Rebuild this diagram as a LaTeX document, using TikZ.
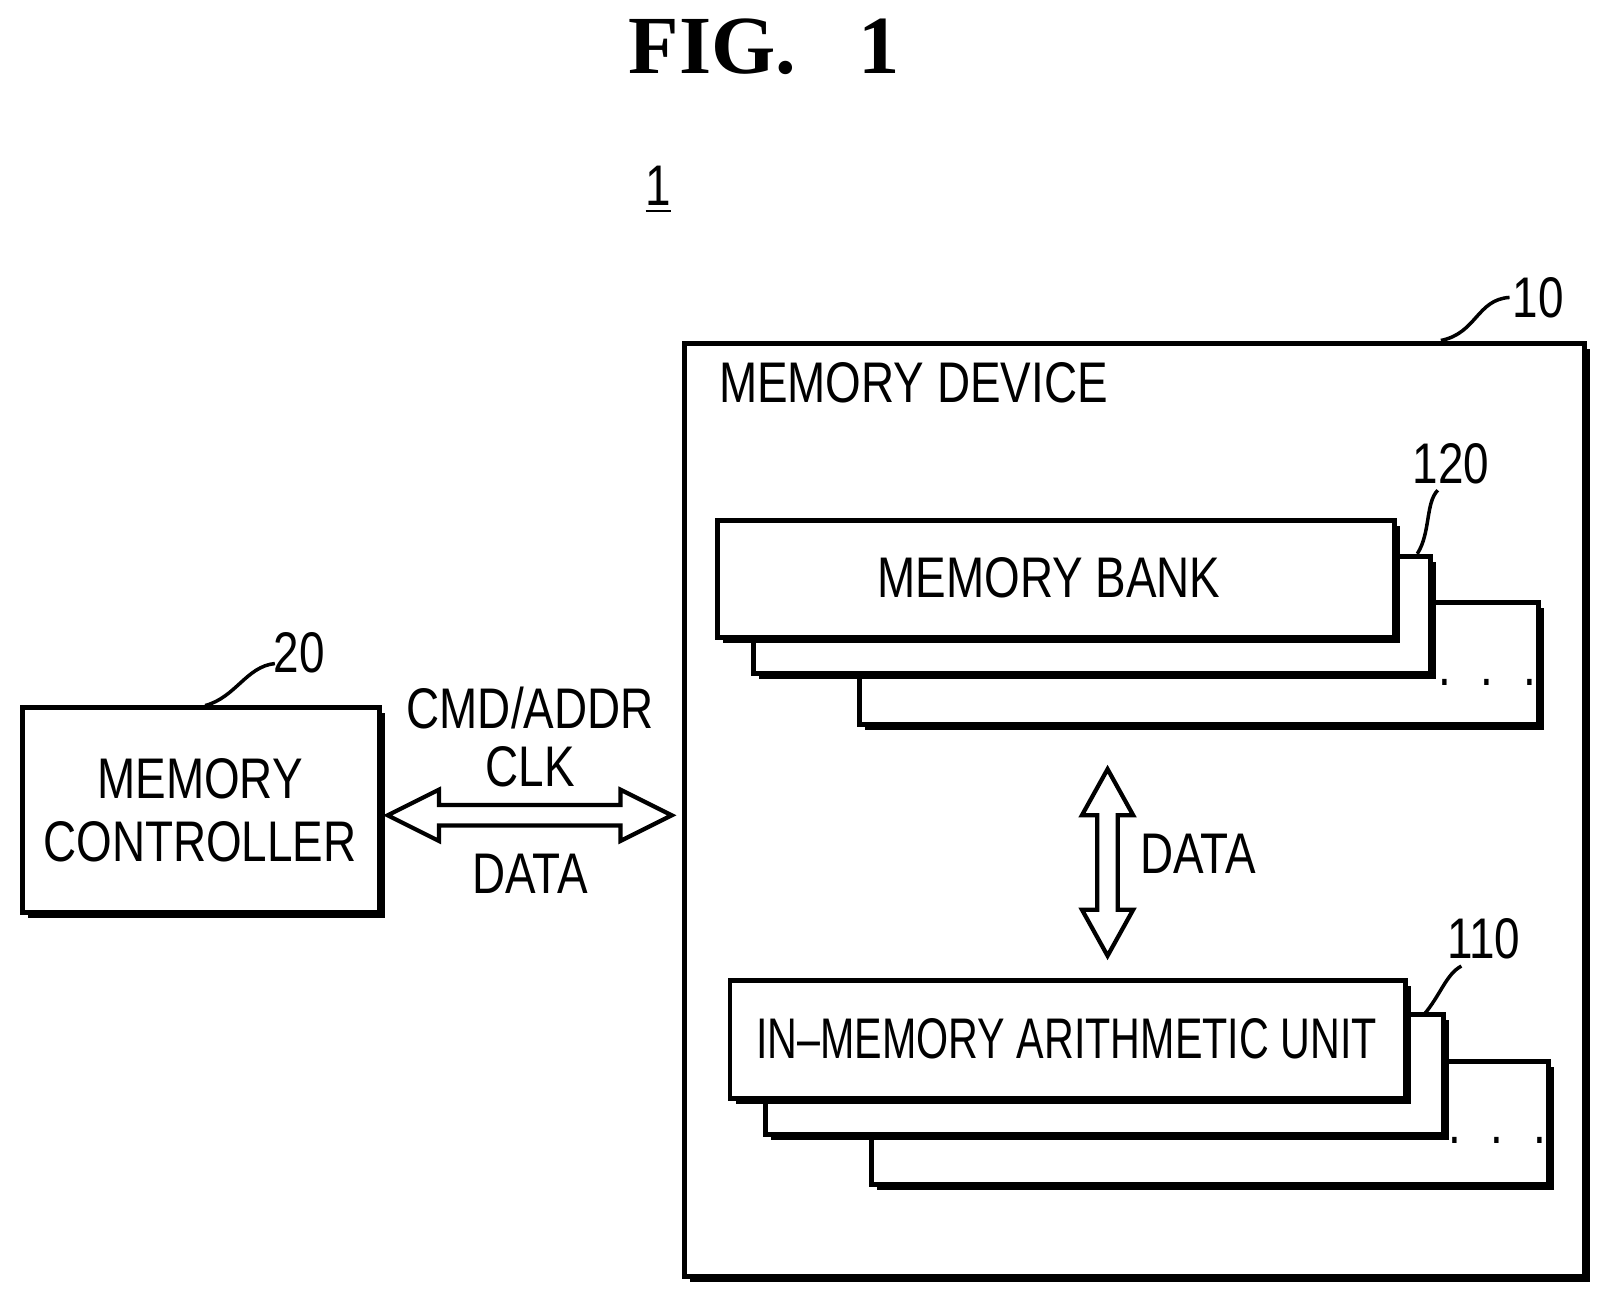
\documentclass[tikz,border=0pt]{standalone}
\usepackage{fontspec}
\setmainfont{Liberation Sans}[FakeStretch=0.8]
\newfontfamily\narrowfont{Liberation Sans}[FakeStretch=0.72,Ligatures=TeX]
\newfontfamily\figfont{Liberation Serif}
\begin{document}
\begin{tikzpicture}[x=0.010256cm,y=-0.010256cm,
  bx/.style={draw,line width=1.4pt,fill=white,inner sep=0,
    preaction={fill=black,transform canvas={shift={(0.055cm,-0.055cm)}}}},
  lbl/.style={font=\fontsize{16.3}{19}\selectfont},
  lead/.style={line width=1pt}]
\useasboundingbox (0,0) rectangle (1568,1270);
\node[font=\figfont\bfseries\fontsize{23.5}{28}\selectfont] (fig) at (745,46) {FIG.\hspace{0.75em}1};
\node[lbl] (one) at (642,185) {\underline{1}};
% memory device
\node[bx,minimum width=9.0cm,minimum height=9.33cm] (dev) at (1106,790) {};
\node[lbl,anchor=west] (devt) at (689,373) {MEMORY DEVICE};
\node[lbl] (ten) at (1500,290) {10};
\draw[lead] (1405,332) .. controls (1440,325) and (1440,292) .. (1472,290);
% memory bank stack
\node[bx,minimum width=6.79cm,minimum height=1.22cm] (b3) at (1169,647) {};
\node[bx,minimum width=6.77cm,minimum height=1.17cm] (b2) at (1065,600) {};
\node[bx,minimum width=6.77cm,minimum height=1.17cm] (b1) at (1030,565) {};
\node[lbl] (bt) at (1023,563) {MEMORY BANK};
\node[lbl] (bd) at (1450,665) {. \ . \ .};
\node[lbl] (b120) at (1415,452) {120};
\draw[lead] (1382,540) .. controls (1395,520) and (1390,490) .. (1402,478);
% IMAU stack
\node[bx,minimum width=6.77cm,minimum height=1.23cm] (a3) at (1180,1095) {};
\node[bx,minimum width=6.78cm,minimum height=1.2cm] (a2) at (1077,1048) {};
\node[bx,minimum width=6.75cm,minimum height=1.18cm] (a1) at (1041,1014) {};
\node[font=\narrowfont\fontsize{16.3}{19}\selectfont] (at) at (1040,1013) {IN–MEMORY ARITHMETIC UNIT};
\node[lbl] (ad) at (1460,1112) {. \ . \ .};
\node[lbl] (a110) at (1447,915) {110};
\draw[lead] (1388,990) .. controls (1405,970) and (1410,950) .. (1425,942);
% vertical arrow
\coordinate (vt) at (1080,750);
\coordinate (vb) at (1080,932);
\draw[line width=1.2pt,fill=white] (vt) -- ++(25,45) -- ++(-15,0) -- ++(0,92) -- ++(15,0)
  -- (vb) -- ++(-25,-45) -- ++(15,0) -- ++(0,-92) -- ++(-15,0) -- cycle;
\node[lbl,anchor=west] (vdata) at (1100,833) {DATA};
% memory controller
\node[bx,minimum width=3.57cm,minimum height=2.05cm] (mc) at (196,790) {};
\node[lbl,align=center] (mct) at (195,790) {MEMORY\\[-1pt]CONTROLLER};
\node[lbl] (twenty) at (292,637) {20};
\draw[lead] (200,688) .. controls (230,680) and (240,650) .. (268,647);
% horizontal arrow
\coordinate (hl) at (378,795);
\coordinate (hr) at (655,795);
\draw[line width=1.2pt,fill=white] (hl) -- ++(50,-25) -- ++(0,15) -- ++(177,0) -- ++(0,-15)
  -- (hr) -- ++(-50,25) -- ++(0,-15) -- ++(-177,0) -- ++(0,15) -- cycle;
\node[lbl] (cmd) at (517,690) {CMD/ADDR};
\node[lbl] (clk) at (517,748) {CLK};
\node[lbl] (hdata) at (517,852) {DATA};
\end{tikzpicture}
\end{document}
